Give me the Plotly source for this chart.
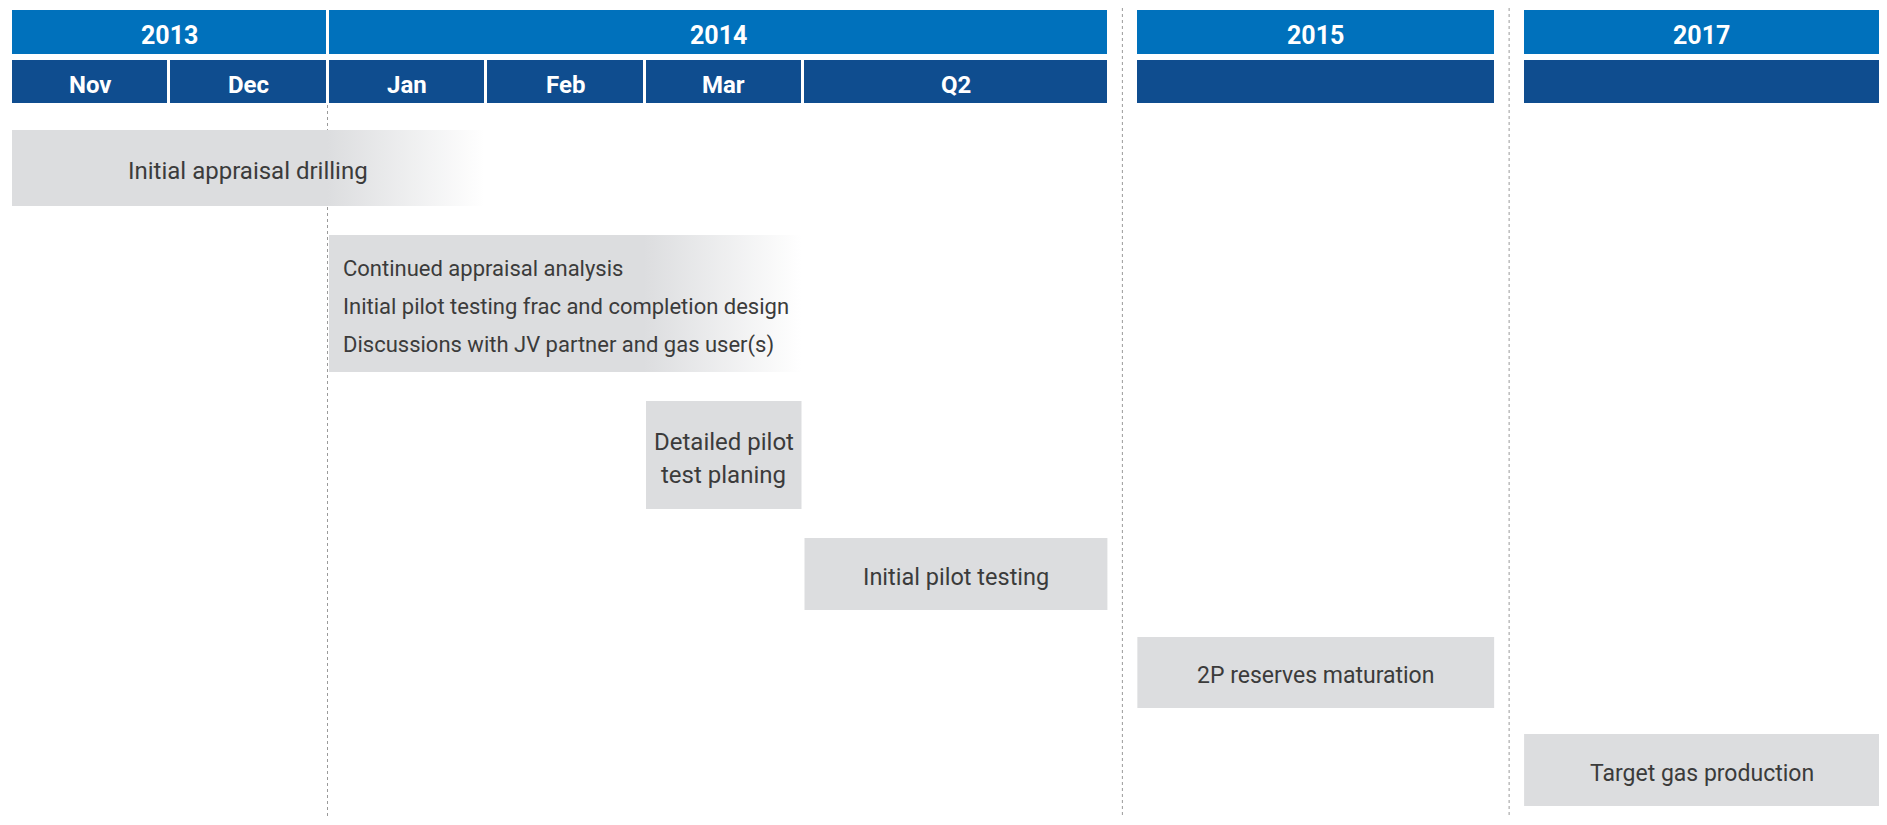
import plotly.graph_objects as go

# x is measured in month slots, Nov 2013 = 0 (2015 / 2017 get their own wider slots)
years = ["2013", "2014", "2015", "2017"]
year_start = [0, 2, 7.1, 9.54]
year_end = [2, 6.93, 9.37, 11.8]

periods = ["Nov", "Dec", "Jan", "Feb", "Mar", "Q2", "", ""]
period_start = [0, 1, 2, 3, 4, 5, 7.1, 9.54]
period_end = [1, 2, 3, 4, 5, 6.93, 9.37, 11.8]

task_lines = [
    ["Initial appraisal drilling"],
    ["Continued appraisal analysis",
     "Initial pilot testing frac and completion design",
     "Discussions with JV partner and gas user(s)"],
    ["Detailed pilot", "test planing"],
    ["Initial pilot testing"],
    ["2P reserves maturation"],
    ["Target gas production"],
]
task_start = [0, 2, 4, 5, 7.1, 9.54]
task_end = [3, 5, 5, 6.93, 9.37, 11.8]
task_solid_end = [2, 4, 5, 6.93, 9.37, 11.8]   # bar fades to white after this
task_align = ["center", "left", "center", "center", "center", "center"]

# vertical layout (page pixels from the top)
row_top = [130, 235, 401, 538, 637, 734]
row_height = [76, 137, 108, 72, 71, 72]
line_gap = [0, 38, 33, 0, 0, 0]
text_size = [24, 22, 24, 23.5, 23, 23]

BLUE_YEAR = "#0071BC"
BLUE_MONTH = "#0F4D8F"
GREY_BOX = "#DCDDDF"
TEXT_DARK = "#3B3B3B"
HEAD_FONT = "Roboto, sans-serif"
BODY_FONT = "Roboto, sans-serif"

# page has an 8px body margin, so the figure is 16px smaller than the window
PAGE_PAD = 8
FIG_W, FIG_H = 1887 - 2 * PAGE_PAD, 825 - 2 * PAGE_PAD
SLOT_PX, SLOT_X0 = 158.5, 10.5   # one month slot in page pixels, left edge of Nov
INSET = 1.5 / SLOT_PX            # half of the white gap between cells
TEXT_DY = 3                      # optical nudge for text centring

fig = go.Figure()

# dotted dividers between blocks (drawn first so boxes sit on top)
dividers = [2, (period_end[5] + period_start[6]) / 2, (period_end[6] + period_start[7]) / 2]
divider_top = [105, 8, 8]
for dx, dt in zip(dividers, divider_top):
    fig.add_trace(go.Scatter(
        x=[dx, dx], y=[dt, 825], mode="lines",
        line=dict(color="#9A9A9A", width=1, dash="dot"),
        hoverinfo="skip", showlegend=False))

# header rows
fig.add_trace(go.Bar(
    orientation="h", base=year_start,
    x=[e - s for s, e in zip(year_start, year_end)],
    y=[32] * len(years), width=47,
    marker=dict(color=BLUE_YEAR, line=dict(color="white", width=3)),
    hoverinfo="skip", showlegend=False))
fig.add_trace(go.Bar(
    orientation="h", base=period_start,
    x=[e - s for s, e in zip(period_start, period_end)],
    y=[81.5] * len(periods), width=46,
    marker=dict(color=BLUE_MONTH, line=dict(color="white", width=3)),
    hoverinfo="skip", showlegend=False))

for lab, s, e in zip(years, year_start, year_end):
    fig.add_annotation(x=(s + e) / 2, y=32 + 3, text=f"<b>{lab}</b>", showarrow=False,
                       font=dict(family=HEAD_FONT, size=25, color="white"))
for lab, s, e in zip(periods, period_start, period_end):
    if lab:
        fig.add_annotation(x=(s + e) / 2, y=81.5 + 3, text=f"<b>{lab}</b>", showarrow=False,
                           font=dict(family=HEAD_FONT, size=24, color="white"))

# task boxes
for i in range(len(task_lines)):
    s, e, se = task_start[i], task_end[i], task_solid_end[i]
    x0, x1 = s + INSET, e - INSET
    top, bot = row_top[i], row_top[i] + row_height[i]
    frac = (se - s) / (e - s)
    end_col = "white" if se < e else GREY_BOX
    fig.add_trace(go.Scatter(
        x=[x0, x1, x1, x0, x0], y=[top, top, bot, bot, top],
        mode="lines", line=dict(width=0), fill="toself",
        fillgradient=dict(type="horizontal",
                          colorscale=[[0, GREY_BOX], [frac, GREY_BOX], [1, end_col]]),
        hoverinfo="skip", showlegend=False))

    lines = task_lines[i]
    mid = top + row_height[i] / 2 + TEXT_DY
    n = len(lines)
    font = dict(family=BODY_FONT, size=text_size[i], color=TEXT_DARK)
    for k, txt in enumerate(lines):
        yy = mid + (k - (n - 1) / 2) * line_gap[i]
        if task_align[i] == "left":
            fig.add_annotation(x=s + 0.085, y=yy, text=txt, showarrow=False,
                               xanchor="left", align="left", font=font)
        else:
            fig.add_annotation(x=(s + e) / 2, y=yy, text=txt, showarrow=False, font=font)

fig.update_layout(
    width=FIG_W, height=FIG_H,
    margin=dict(l=0, r=0, t=0, b=0),
    paper_bgcolor="white", plot_bgcolor="white",
    barmode="overlay", bargap=0,
    xaxis=dict(range=[(PAGE_PAD - SLOT_X0) / SLOT_PX, (1887 - PAGE_PAD - SLOT_X0) / SLOT_PX],
               visible=False, fixedrange=True),
    yaxis=dict(range=[825 - PAGE_PAD, PAGE_PAD], visible=False, fixedrange=True),
)

fig.write_html("out.html")
